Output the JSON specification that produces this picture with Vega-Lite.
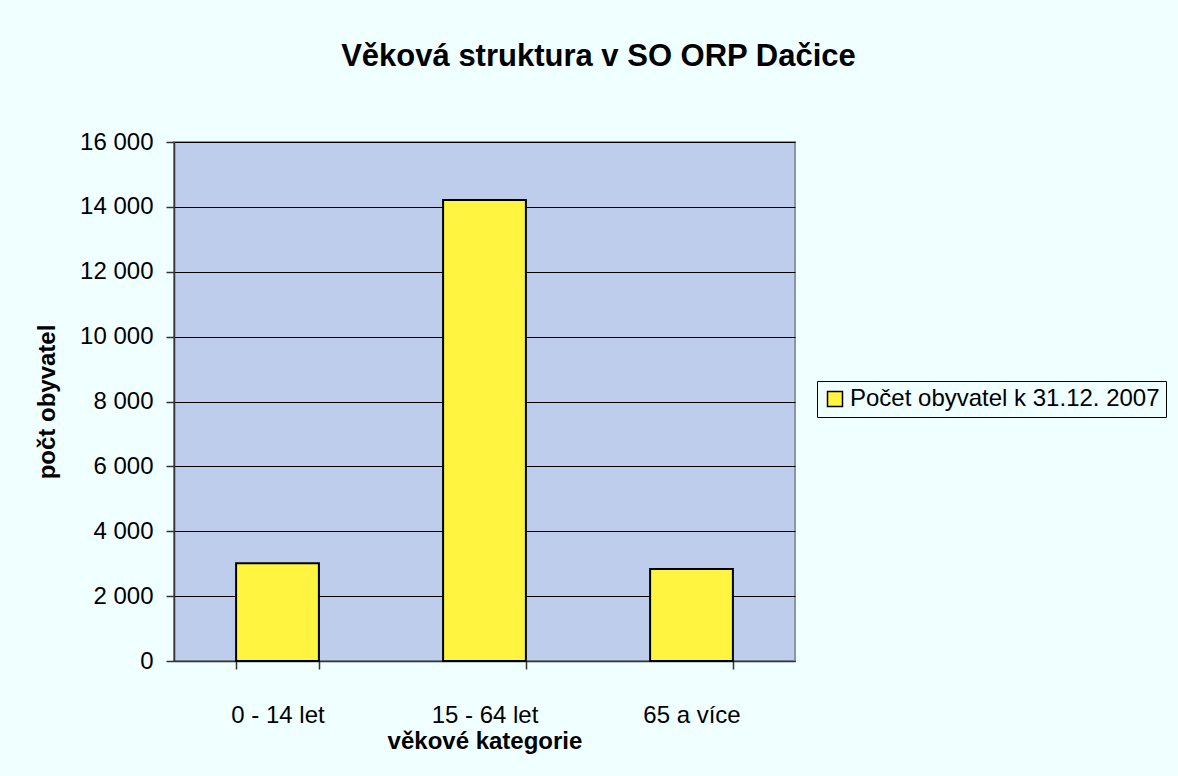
{
  "$schema": "https://vega.github.io/schema/vega-lite/v6.json",
  "width": 621,
  "height": 519,
  "autosize": {"type": "none"},
  "padding": {"left": 174, "top": 142, "right": 383, "bottom": 115},
  "background": "#F0FFFF",
  "title": {
    "text": "Věková struktura v SO ORP Dačice",
    "fontSize": 31,
    "fontWeight": "bold",
    "font": "Liberation Sans",
    "anchor": "middle",
    "frame": "group",
    "dx": 114,
    "baseline": "alphabetic",
    "offset": 33,
    "color": "#000000"
  },
  "data": {
    "values": [
      {"kategorie": "0 - 14 let", "pocet": 3010, "serie": "Počet obyvatel k 31.12. 2007"},
      {"kategorie": "15 - 64 let", "pocet": 14210, "serie": "Počet obyvatel k 31.12. 2007"},
      {"kategorie": "65 a více", "pocet": 2840, "serie": "Počet obyvatel k 31.12. 2007"}
    ]
  },
  "mark": {"type": "bar", "stroke": "#000000", "strokeWidth": 2},
  "encoding": {
    "x": {
      "field": "kategorie",
      "type": "nominal",
      "sort": null,
      "scale": {"paddingInner": 0.6, "paddingOuter": 0.3},
      "axis": {
        "title": "věkové kategorie",
        "labelAngle": 0,
        "tickBand": "extent",
        "tickSize": 8,
        "labelPadding": 34,
        "titlePadding": 2,
        "grid": false
      }
    },
    "y": {
      "field": "pocet",
      "type": "quantitative",
      "scale": {"domain": [0, 16000], "nice": false},
      "axis": {
        "title": "počt obyvatel",
        "values": [0, 2000, 4000, 6000, 8000, 10000, 12000, 14000, 16000],
        "labelExpr": "replace(format(datum.value, ','), ',', ' ')",
        "tickSize": 8,
        "labelPadding": 13,
        "titlePadding": 20,
        "grid": true,
        "gridColor": "#000000",
        "gridWidth": 1,
        "gridOpacity": 1
      }
    },
    "color": {
      "field": "serie",
      "type": "nominal",
      "scale": {"range": ["#FFF540"]},
      "legend": {
        "title": null,
        "orient": "none",
        "legendX": 643,
        "legendY": 239,
        "strokeColor": "#000000",
        "fillColor": "#F0FFFF",
        "padding": 6,
        "symbolType": "square",
        "symbolSize": 225,
        "symbolStrokeColor": "#000000",
        "symbolStrokeWidth": 1.5,
        "symbolOpacity": 1,
        "labelOffset": 3,
        "labelFontSize": 24,
        "labelFont": "Liberation Sans",
        "labelColor": "#000000",
        "labelLimit": 0
      }
    }
  },
  "config": {
    "font": "Liberation Sans",
    "view": {"fill": "#BDCDEB", "stroke": "#8895AA", "strokeWidth": 2},
    "axis": {
      "labelFont": "Liberation Sans",
      "labelFontSize": 24,
      "labelColor": "#000000",
      "titleFont": "Liberation Sans",
      "titleFontSize": 24,
      "titleFontWeight": "bold",
      "titleColor": "#000000",
      "domainColor": "#333333",
      "domainWidth": 1.5,
      "tickColor": "#333333",
      "tickWidth": 1.5
    }
  }
}
